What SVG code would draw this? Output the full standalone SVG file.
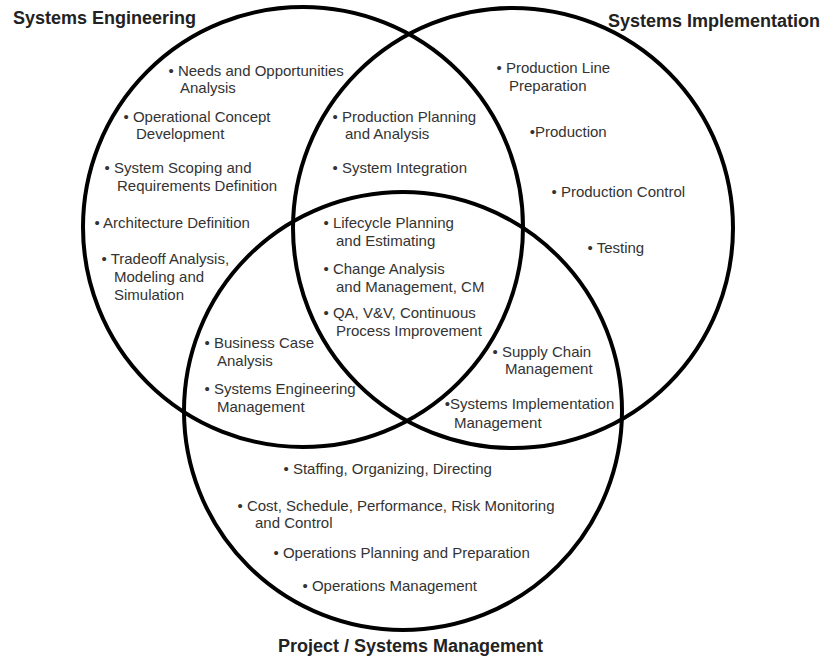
<svg xmlns="http://www.w3.org/2000/svg" width="840" height="659" viewBox="0 0 840 659">
<style>
.ring{fill:none;stroke:#000;stroke-width:4}
.title{font-family:"Liberation Sans",Arial,sans-serif;font-size:18px;font-weight:bold;fill:#222}
.item{font-family:"Liberation Sans",Arial,sans-serif;font-size:15px;fill:#333}
</style>
<rect width="840" height="659" fill="#fff"/>
<g id="set-systems-engineering">
<circle class="ring" cx="303" cy="227" r="220"/>
<text class="title" x="13" y="24">Systems Engineering</text>
</g>
<g id="set-systems-implementation">
<circle class="ring" cx="513" cy="228" r="220"/>
<text class="title" x="608" y="27">Systems Implementation</text>
</g>
<g id="set-project-management">
<circle class="ring" cx="403" cy="411" r="219"/>
<text class="title" x="278" y="652">Project / Systems Management</text>
</g>
<g id="connectors"></g>
<g id="items-se" class="item">
<text x="168.5" y="76">• Needs and Opportunities</text>
<text x="180" y="93">Analysis</text>
<text x="123.5" y="122">• Operational Concept</text>
<text x="136" y="139">Development</text>
<text x="104.5" y="173">• System Scoping and</text>
<text x="117" y="191">Requirements Definition</text>
<text x="94.5" y="228">• Architecture Definition</text>
<text x="101.5" y="264">• Tradeoff Analysis,</text>
<text x="114" y="282">Modeling and</text>
<text x="114" y="300">Simulation</text>
</g>
<g id="items-se-si" class="item">
<text x="332.5" y="122">• Production Planning</text>
<text x="345" y="139">and Analysis</text>
<text x="332.5" y="173">• System Integration</text>
</g>
<g id="items-all" class="item">
<text x="323.5" y="228">• Lifecycle Planning</text>
<text x="336" y="246">and Estimating</text>
<text x="323.5" y="274">• Change Analysis</text>
<text x="336" y="292">and Management, CM</text>
<text x="323.5" y="318">• QA, V&amp;V, Continuous</text>
<text x="336" y="336">Process Improvement</text>
</g>
<g id="items-se-pm" class="item">
<text x="204.5" y="348">• Business Case</text>
<text x="217" y="366">Analysis</text>
<text x="204.5" y="394">• Systems Engineering</text>
<text x="217" y="412">Management</text>
</g>
<g id="items-si" class="item">
<text x="496.5" y="73">• Production Line</text>
<text x="509" y="91">Preparation</text>
<text x="529.75" y="137">•Production</text>
<text x="551.5" y="197">• Production Control</text>
<text x="587.5" y="253">• Testing</text>
</g>
<g id="items-si-pm" class="item">
<text x="492.5" y="357">• Supply Chain</text>
<text x="505" y="374">Management</text>
<text x="444.75" y="409">•Systems Implementation</text>
<text x="454" y="428">Management</text>
</g>
<g id="items-pm" class="item">
<text x="283.5" y="474">• Staffing, Organizing, Directing</text>
<text x="237.5" y="511">• Cost, Schedule, Performance, Risk Monitoring</text>
<text x="255" y="528">and Control</text>
<text x="273.5" y="558">• Operations Planning and Preparation</text>
<text x="302.5" y="591">• Operations Management</text>
</g>
</svg>
